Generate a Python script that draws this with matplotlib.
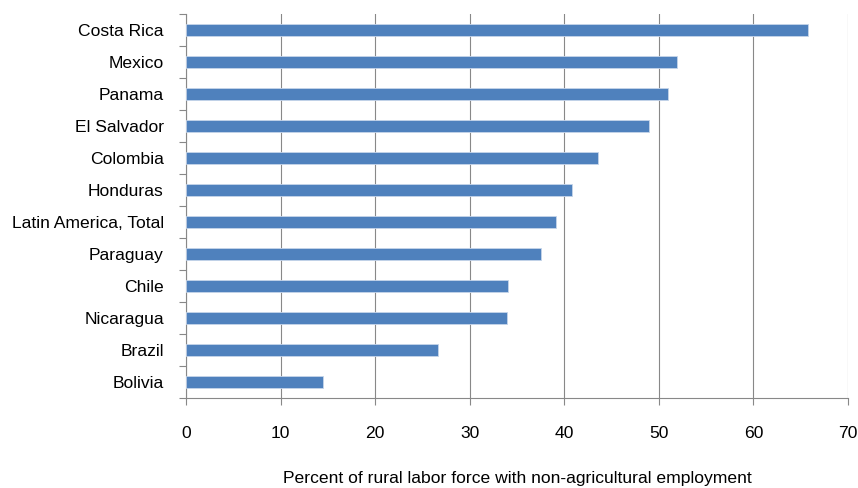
import matplotlib.pyplot as plt

plt.rcParams['font.family'] = ['Liberation Sans', 'DejaVu Sans']

countries = ['Costa Rica', 'Mexico', 'Panama', 'El Salvador', 'Colombia', 'Honduras',
             'Latin America, Total', 'Paraguay', 'Chile', 'Nicaragua', 'Brazil', 'Bolivia']
values = [65.8, 51.9, 51.0, 49.0, 43.6, 40.8, 39.1, 37.5, 34.0, 33.9, 26.6, 14.5]
xticks = [0, 10, 20, 30, 40, 50, 60, 70]

fig, ax = plt.subplots(figsize=(8.58, 4.88), dpi=100)
fig.subplots_adjust(left=186 / 858, right=848 / 858, top=1 - 14 / 488, bottom=1 - 398 / 488)

# top category first
pos = list(range(len(countries)))[::-1]
ax.barh(pos, values, height=0.4, color='#4F81BD', edgecolor='#C6D5EA', linewidth=0.6, zorder=3)

ax.set_xlim(0, 70)
ax.set_ylim(-0.5, len(countries) - 0.5)
ax.set_xticks(xticks)
ax.set_yticks(pos)
ax.set_yticklabels(countries)
# category boundary ticks on the y axis
ax.set_yticks([p - 0.5 for p in range(len(countries) + 1)], minor=True)
ax.tick_params(axis='y', which='major', length=0, pad=16, labelsize=12.6)
ax.tick_params(axis='y', which='minor', length=5, color='#888888', width=0.8)
ax.tick_params(axis='x', length=5, color='#888888', width=0.8, pad=15, labelsize=12.6)

ax.grid(axis='x', color='#888888', linewidth=0.8, zorder=0)
for s in ['top', 'right']:
    ax.spines[s].set_visible(False)
for s in ['left', 'bottom']:
    ax.spines[s].set_color('#888888')
    ax.spines[s].set_linewidth(0.8)

ax.set_xlabel('Percent of rural labor force with non-agricultural employment', fontsize=12.6, labelpad=22)

fig.savefig('out.png', dpi=100)
